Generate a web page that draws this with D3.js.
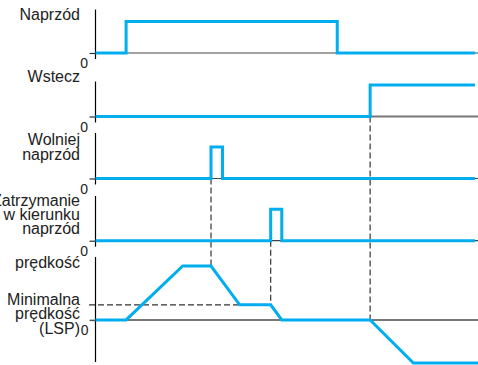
<!DOCTYPE html>
<html><head><meta charset="utf-8">
<script src="https://cdn.jsdelivr.net/npm/d3@7"></script>
<style>html,body{margin:0;padding:0;background:#fff}svg{display:block}</style>
</head><body>
<svg id="c" width="478" height="365"></svg>
<script>
// ---- data ----
const panelLabels = [["Naprzód"],["Wstecz"],["Wolniej","naprzód"],["Zatrzymanie","w kierunku","naprzód"]];
const speedLabels = ["prędkość","Minimalna","prędkość","(LSP)"];
const zeroLabel = "0";
const forwardT = [0, 0.8, 6.32, 9.92];
const forwardV = [0, 1, 0, 0];
const reverseT = [0, 7.18, 9.92];
const reverseV = [0, 1, 1];
const slowT = [0, 3.02, 3.32, 9.92];
const slowV = [0, 1, 0, 0];
const stopT = [0, 4.58, 4.87, 9.92];
const stopV = [0, 1, 0, 0];
const speedT = [0, 0.8, 2.28, 3.02, 3.77, 4.58, 4.87, 7.18, 8.31, 10];
const speedV = [0, 0, 100, 100, 28, 28, 0, 0, -80, -80];
const lspValue = 28;

// ---- layout ----
const svg = d3.select("#c");
const blue = "#00aeef";
const axisX = 95.5;
const x = d3.scaleLinear().domain([0, 10]).range([axisX, 478]);
const panels = [
  {T: forwardT, V: forwardV, base: 53, top: 9.5, lab: panelLabels[0], labY: [20]},
  {T: reverseT, V: reverseV, base: 116.5, top: 81.5, lab: panelLabels[1], labY: [81.5]},
  {T: slowT, V: slowV, base: 178.5, top: 133, lab: panelLabels[2], labY: [145, 159.5]},
  {T: stopT, V: stopV, base: 240.7, top: 196, lab: panelLabels[3], labY: [206, 220, 234]}
];
const font = "'Liberation Sans', Arial, Helvetica, sans-serif";

panels.forEach((p, i) => {
  const y = d3.scaleLinear().domain([0, 1]).range([p.base, p.base - 31.5]);
  p.y = y;
  const g = svg.append("g");
  // baseline
  g.append("line").attr("x1", axisX).attr("x2", 478).attr("y1", y(0)).attr("y2", y(0))
    .attr("stroke", i === 1 ? "#777" : "#444").attr("stroke-width", i === 1 ? 2 : 1.2);
  // axis with tick
  const ax = d3.axisLeft(y).tickValues([0]).tickSize(6).tickSizeOuter(0).tickFormat("");
  const axg = g.append("g").attr("transform", `translate(${axisX},0)`).call(ax);
  axg.select(".domain").remove();
  axg.selectAll(".tick line").attr("stroke", "#333").attr("stroke-width", 1.2);
  g.append("line").attr("x1", axisX).attr("x2", axisX).attr("y1", p.top).attr("y2", p.base + 6)
    .attr("stroke", "#000").attr("stroke-width", 1.2);
  // zero label
  g.append("text").attr("x", 88).attr("y", p.base + 15).attr("text-anchor", "end")
    .attr("font-family", font).attr("font-size", 14).attr("fill", "#222").text(zeroLabel);
  // labels
  p.lab.forEach((s, k) => {
    g.append("text").attr("x", 80).attr("y", p.labY[k]).attr("text-anchor", "end")
      .attr("font-family", font).attr("font-size", 16).attr("fill", "#222").text(s);
  });
});

// speed panel
const ys = d3.scaleLinear().domain([-80, 100]).range([363, 266]);
const sg = svg.append("g");
sg.append("line").attr("x1", axisX).attr("x2", 478).attr("y1", ys(0)).attr("y2", ys(0))
  .attr("stroke", "#777").attr("stroke-width", 2);
const axs = d3.axisLeft(ys).tickValues([0]).tickSize(6).tickSizeOuter(0).tickFormat("");
const axsg = sg.append("g").attr("transform", `translate(${axisX},0)`).call(axs);
axsg.select(".domain").remove();
axsg.selectAll(".tick line").attr("stroke", "#555").attr("stroke-width", 1.5);
sg.append("line").attr("x1", axisX).attr("x2", axisX).attr("y1", 257).attr("y2", 362)
  .attr("stroke", "#000").attr("stroke-width", 1.2);
sg.append("text").attr("x", 88.5).attr("y", ys(0) + 15).attr("text-anchor", "end")
  .attr("font-family", font).attr("font-size", 14).attr("fill", "#222").text(zeroLabel);
const speedLabY = [268, 305, 319, 333.5];
speedLabels.forEach((s, k) => {
  sg.append("text").attr("x", 80).attr("y", speedLabY[k]).attr("text-anchor", "end")
    .attr("font-family", font).attr("font-size", 16).attr("fill", "#222").text(s);
});

// dashed guides
const dash = {stroke: "#333", w: 1.2, da: "6,3"};
function dline(x1, y1, x2, y2) {
  svg.append("line").attr("x1", x1).attr("y1", y1).attr("x2", x2).attr("y2", y2)
    .attr("stroke", dash.stroke).attr("stroke-width", dash.w).attr("stroke-dasharray", dash.da);
}
dline(89, ys(lspValue), x(speedT[4]), ys(lspValue));
dline(x(slowT[1]), panels[2].y(0), x(slowT[1]), ys(speedV[3]));
dline(x(stopT[1]), panels[3].y(0), x(stopT[1]), ys(lspValue));
dline(x(reverseT[1]), panels[1].y(0), x(reverseT[1]), ys(0));

// signal lines
panels.forEach(p => {
  const pts = p.T.map((t, i) => [t, p.V[i]]);
  const line = d3.line().x(d => x(d[0])).y(d => p.y(d[1])).curve(d3.curveStepAfter);
  svg.append("path").attr("d", line(pts)).attr("fill", "none").attr("stroke", blue)
    .attr("stroke-width", 3).attr("stroke-linejoin", "miter");
});
const spts = speedT.map((t, i) => [t, speedV[i]]);
svg.append("path").attr("d", d3.line().x(d => x(d[0])).y(d => ys(d[1]))(spts))
  .attr("fill", "none").attr("stroke", blue).attr("stroke-width", 3).attr("stroke-linejoin", "miter");
</script>
</body></html>
